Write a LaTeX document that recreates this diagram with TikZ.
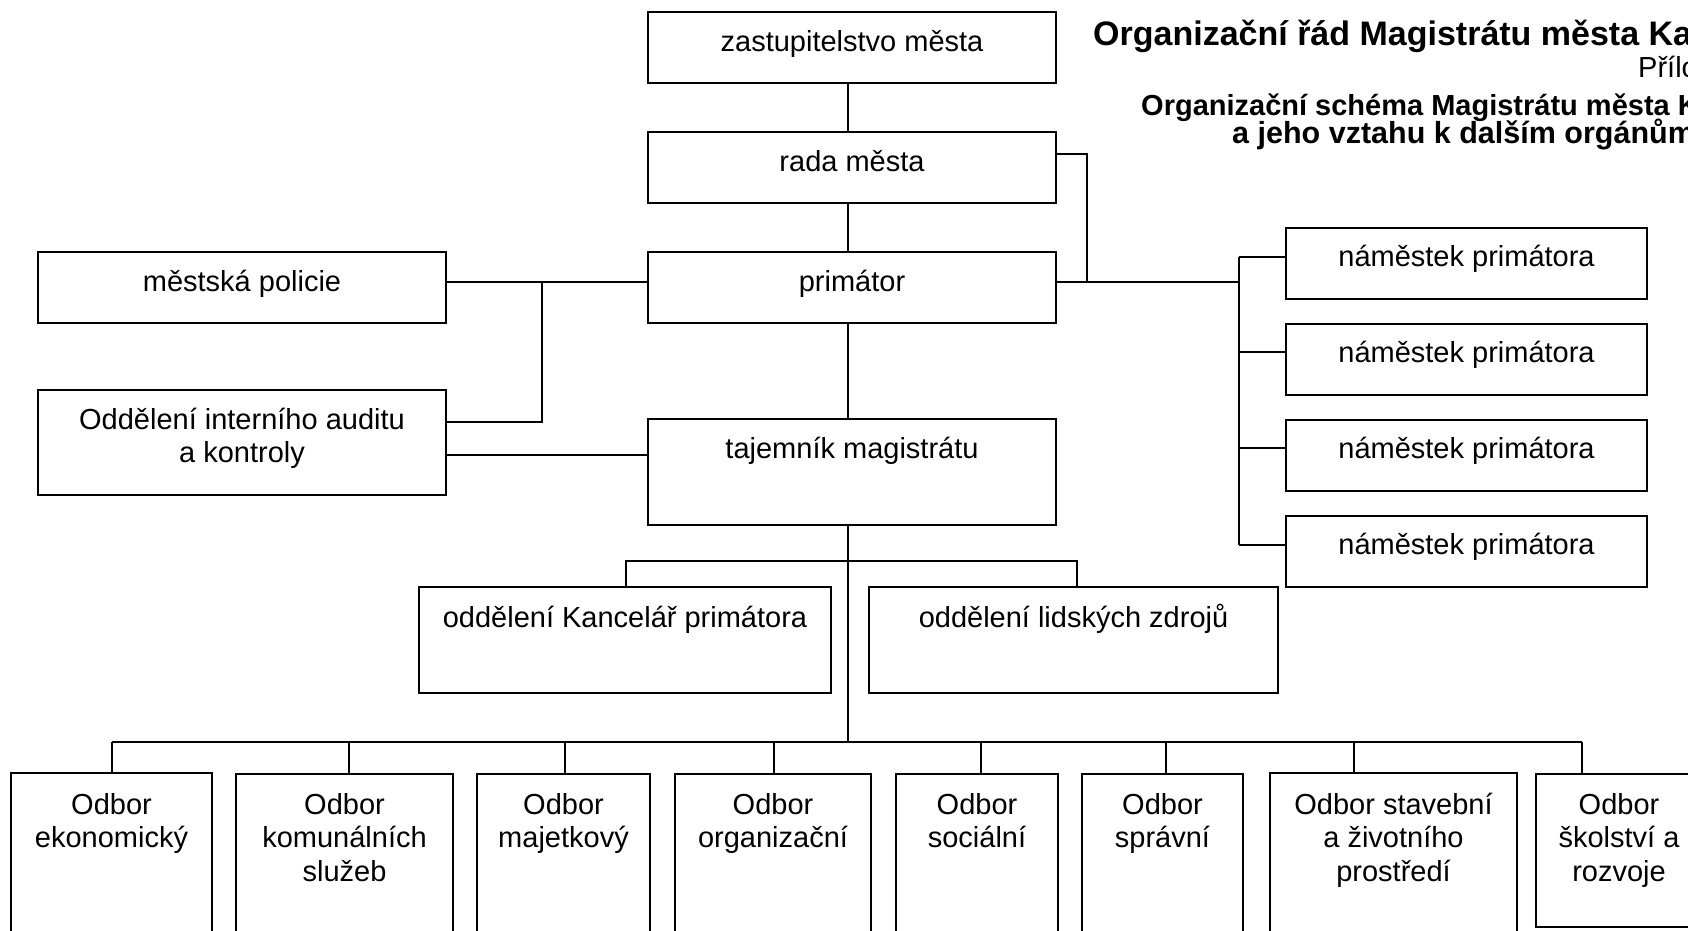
\documentclass[tikz,border=0pt]{standalone}
\usepackage{fontspec}
\setmainfont{Liberation Sans}
\begin{document}
\begin{tikzpicture}[x=1pt,y=-1pt,
  box/.style={draw, line width=1.8pt, inner sep=0pt},
  conn/.style={line width=1.8pt},
  lbl/.style={anchor=base, inner sep=0pt, font=\fontsize{29}{33.5}\selectfont},
  ttl/.style={anchor=base west, inner sep=0pt}]
\useasboundingbox (0,0) rectangle (1688,930);
\clip (0,0) rectangle (1688,930);
\fill[white] (0,0) rectangle (1688,930);

% ---------- title ----------
\node[ttl, font=\fontsize{34}{38}\selectfont\bfseries] (title) at (1093,45) {Organizační řád Magistrátu města Ka};
\node[ttl, font=\fontsize{29}{33}\selectfont] (annex) at (1638,77) {Přílo};
\node[ttl, font=\fontsize{29}{33}\selectfont\bfseries] (sub1) at (1141,115) {Organizační schéma Magistrátu města K};
\node[ttl, font=\fontsize{30.5}{34}\selectfont\bfseries] (sub2) at (1232,143) {a jeho vztahu k dalším orgánům};

% ---------- boxes ----------
\node[box, minimum width=408pt, minimum height=71pt] (zast) at (852,47.5) {};
\node[box, minimum width=408pt, minimum height=71pt] (rada) at (852,167.5) {};
\node[box, minimum width=408pt, minimum height=71pt] (prim) at (852,287.5) {};
\node[box, minimum width=408pt, minimum height=106pt] (taj) at (852,472) {};
\node[box, minimum width=408pt, minimum height=71pt] (pol) at (242,287.5) {};
\node[box, minimum width=408pt, minimum height=105pt] (aud) at (242,442.5) {};
\node[box, minimum width=361pt, minimum height=71pt] (nam1) at (1466.5,263.5) {};
\node[box, minimum width=361pt, minimum height=71pt] (nam2) at (1466.5,359.5) {};
\node[box, minimum width=361pt, minimum height=71pt] (nam3) at (1466.5,455.5) {};
\node[box, minimum width=361pt, minimum height=71pt] (nam4) at (1466.5,551.5) {};
\node[box, minimum width=412pt, minimum height=106pt] (kanc) at (625,640) {};
\node[box, minimum width=409pt, minimum height=106pt] (lid) at (1073.5,640) {};
\node[box, minimum width=201pt, minimum height=187pt] (b1) at (111.5,866.5) {};
\node[box, minimum width=217pt, minimum height=187pt] (b2) at (344.5,867.5) {};
\node[box, minimum width=173pt, minimum height=187pt] (b3) at (563.5,867.5) {};
\node[box, minimum width=196pt, minimum height=187pt] (b4) at (773,867.5) {};
\node[box, minimum width=162pt, minimum height=187pt] (b5) at (977,867.5) {};
\node[box, minimum width=161pt, minimum height=187pt] (b6) at (1162.5,867.5) {};
\node[box, minimum width=247pt, minimum height=187pt] (b7) at (1393.5,866.5) {};
\node[box, minimum width=166pt, minimum height=153pt] (b8) at (1619,850.5) {};

% ---------- texts ----------
\node[lbl] (tzast) at (852,51) {zastupitelstvo města};
\node[lbl] (trada) at (852,171) {rada města};
\node[lbl] (tprim) at (852,291) {primátor};
\node[lbl] (ttaj) at (852,458) {tajemník magistrátu};
\node[lbl] (tpol) at (242,291) {městská policie};
\node[lbl] (taud) at (242,429) {\parbox[t]{398pt}{\centering Oddělení interního auditu\\a kontroly}};
\node[lbl] (tnam1) at (1466.5,266) {náměstek primátora};
\node[lbl] (tnam2) at (1466.5,362) {náměstek primátora};
\node[lbl] (tnam3) at (1466.5,458) {náměstek primátora};
\node[lbl] (tnam4) at (1466.5,554) {náměstek primátora};
\node[lbl] (tkanc) at (625,627) {oddělení Kancelář primátora};
\node[lbl] (tlid) at (1073.5,627) {oddělení lidských zdrojů};
\node[lbl] (tb1) at (111.5,814) {\parbox[t]{195pt}{\centering Odbor\\ekonomický}};
\node[lbl] (tb2) at (344.5,814) {\parbox[t]{211pt}{\centering Odbor\\komunálních\\služeb}};
\node[lbl] (tb3) at (563.5,814) {\parbox[t]{167pt}{\centering Odbor\\majetkový}};
\node[lbl] (tb4) at (773,814) {\parbox[t]{190pt}{\centering Odbor\\organizační}};
\node[lbl] (tb5) at (977,814) {\parbox[t]{156pt}{\centering Odbor\\sociální}};
\node[lbl] (tb6) at (1162.5,814) {\parbox[t]{155pt}{\centering Odbor\\správní}};
\node[lbl] (tb7) at (1393.5,814) {\parbox[t]{241pt}{\centering Odbor stavební\\a životního\\prostředí}};
\node[lbl] (tb8) at (1619,814) {\parbox[t]{160pt}{\centering Odbor\\školství a\\rozvoje}};

% ---------- connectors ----------
\coordinate (sp) at (848,0);
\draw[conn] (zast.south -| sp) -- (rada.north -| sp);
\draw[conn] (rada.south -| sp) -- (prim.north -| sp);
\draw[conn] (prim.south -| sp) -- (taj.north -| sp);
\coordinate (busB) at (848,742);
\draw[conn] (taj.south -| sp) -- (busB);

% sub-bus to the two departments
\coordinate (sbL) at (626,561);
\coordinate (sbR) at (1077,561);
\draw[conn] (kanc.north -| sbL) -- (sbL) -- (sbR) -- (lid.north -| sbR);

% council to the deputies' line
\coordinate (rk) at (1087,154);
\coordinate (pr) at (1239,282);
\draw[conn] (rada.east |- rk) -- (rk) -- (rk |- pr);
\draw[conn] (prim.east |- pr) -- (pr);
\coordinate (nb1) at (1239,257);
\coordinate (nb2) at (1239,352);
\coordinate (nb3) at (1239,448);
\coordinate (nb4) at (1239,545);
\draw[conn] (nb1) -- (nb4);
\foreach \i in {1,...,4} \draw[conn] (nb\i) -- (nam\i.west |- nb\i);

% left side
\coordinate (lj) at (542,282);
\coordinate (lj2) at (542,422);
\draw[conn] (pol.east |- lj) -- (prim.west |- lj);
\draw[conn] (lj) -- (lj2) -- (aud.east |- lj2);
\coordinate (al) at (0,455);
\draw[conn] (aud.east |- al) -- (taj.west |- al);

% bottom bus
\foreach \i/\x in {1/112,2/349,3/565,4/774,5/981,6/1166,7/1354,8/1582}
  \coordinate (d\i) at (\x,742);
\draw[conn] (d1) -- (d8);
\foreach \i in {1,...,8} \draw[conn] (d\i) -- (d\i |- b\i.north);
\end{tikzpicture}
\end{document}
